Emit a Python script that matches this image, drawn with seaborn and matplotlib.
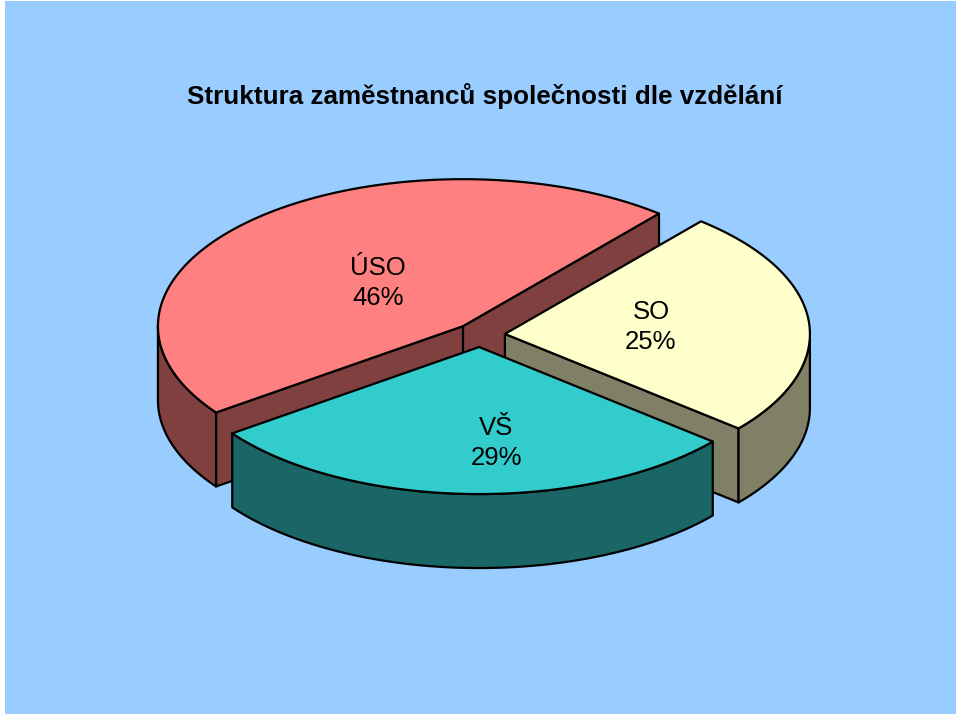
import numpy as np
import matplotlib
matplotlib.use("Agg")
import matplotlib.pyplot as plt
from matplotlib.patches import Rectangle
import seaborn as sns

# Data
title = "Struktura zaměstnanců společnosti dle vzdělání"
categories = ["ÚSO", "VŠ", "SO"]
shares = [46.1, 28.9, 25.0]
top_colors = ["#FF8080", "#33CCCC", "#FFFFCC"]

# Layout (figure pixels)
W, H = 960, 716
CX, CY = 480, 335
A, B, DEPTH = 305, 147, 74
EXPLODE = 0.082
START = 50.0
draw_order = ["ÚSO", "SO", "VŠ"]
label_pos = {"ÚSO": (378, 283), "SO": (651, 327), "VŠ": (496, 443)}

sns.set_theme(style="white")
plt.rcParams["font.family"] = ["Liberation Sans", "DejaVu Sans"]
tops = sns.color_palette(top_colors)
sides = [tuple(c * 0.5 for c in col) for col in tops]

fig = plt.figure(figsize=(W / 100, H / 100), dpi=100, facecolor="white")
ax = fig.add_axes([0, 0, 1, 1])
ax.set_xlim(0, W)
ax.set_ylim(H, 0)
ax.axis("off")
sns.despine(ax=ax, left=True, bottom=True)
ax.add_patch(Rectangle((5, 1), 951, 713, facecolor="#99CCFF", edgecolor="none", zorder=0))

fractions = np.array(shares, dtype=float) / sum(shares)
edges = START + 360 * np.concatenate([[0], np.cumsum(fractions)])

slices = {}
for name, a0, a1, top, side in zip(categories, edges[:-1], edges[1:], tops, sides):
    mid = np.radians((a0 + a1) / 2)
    slices[name] = dict(
        a0=a0, a1=a1, top=top, side=side,
        cx=CX + EXPLODE * A * np.cos(mid),
        cy=CY - EXPLODE * B * np.sin(mid),
    )


def rim(s, deg):
    t = np.radians(deg)
    return s["cx"] + A * np.cos(t), s["cy"] - B * np.sin(t)


style = dict(edgecolor="black", linewidth=1.6, joinstyle="round")
z = 1
for name in draw_order:
    s = slices[name]
    # radial faces that look towards the viewer
    for deg, normal in ((s["a0"], s["a0"] - 90), (s["a1"], s["a1"] + 90)):
        if np.sin(np.radians(normal)) < 0:
            x, y = rim(s, deg)
            ax.fill([s["cx"], x, x, s["cx"]],
                    [s["cy"], y, y + DEPTH, s["cy"] + DEPTH],
                    facecolor=s["side"], zorder=z, **style)
    # outer wall: the part on the front half of the ellipse
    for lo, hi in ((180, 360), (540, 720)):
        a, b = max(s["a0"], lo), min(s["a1"], hi)
        if b > a:
            deg = np.linspace(a, b, 120)
            x, y = rim(s, deg)
            ax.fill(np.r_[x, x[::-1]], np.r_[y, (y + DEPTH)[::-1]],
                    facecolor=s["side"], zorder=z, **style)
    # top surface
    deg = np.linspace(s["a0"], s["a1"], 240)
    x, y = rim(s, deg)
    ax.fill(np.r_[s["cx"], x], np.r_[s["cy"], y],
            facecolor=s["top"], zorder=z, **style)
    z += 1

for name, share in zip(categories, shares):
    lx, ly = label_pos[name]
    ax.text(lx, ly, f"{name}\n{share:.0f}%", ha="center", va="center", fontsize=18.5,
            color="black", linespacing=1.27, zorder=10)

ax.text(187, 104, title, ha="left", va="baseline", fontsize=18.75,
        fontweight="bold", color="black", zorder=10)

fig.savefig("out.png", dpi=100, facecolor="white")
